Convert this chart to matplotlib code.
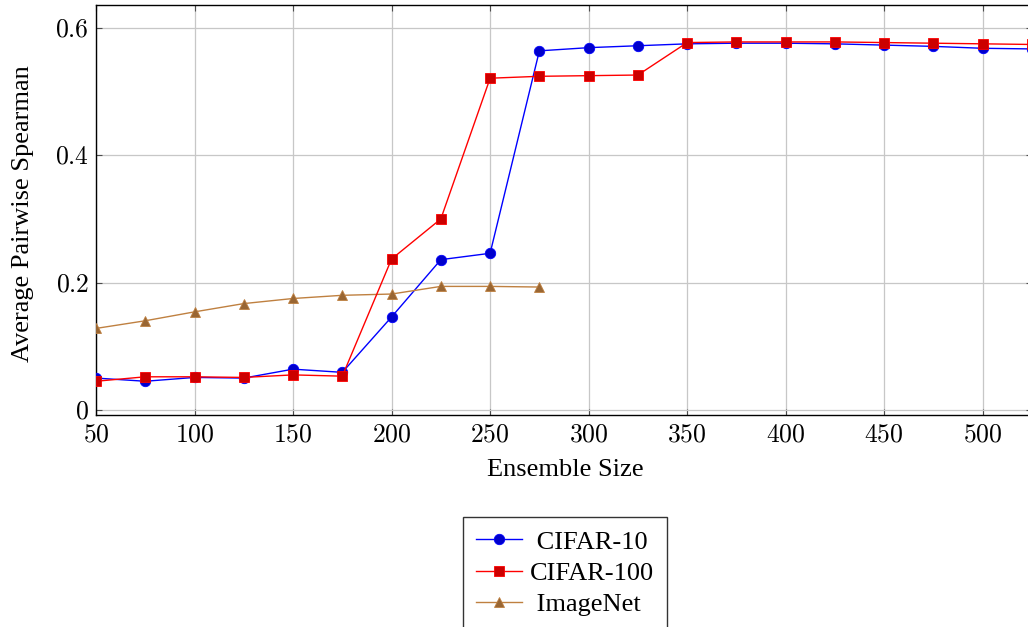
import matplotlib
matplotlib.use("Agg")
import matplotlib.pyplot as plt
from matplotlib.ticker import FuncFormatter, MultipleLocator

plt.rcParams['font.family'] = ['Liberation Serif', 'DejaVu Serif']
plt.rcParams['mathtext.fontset'] = 'cm'

ensemble_sizes = [50, 75, 100, 125, 150, 175, 200, 225, 250, 275, 300, 325, 350,
                  375, 400, 425, 450, 475, 500, 525]
cifar10 = [0.050, 0.045, 0.051, 0.050, 0.064, 0.059, 0.146, 0.236, 0.246, 0.564,
           0.569, 0.572, 0.575, 0.576, 0.576, 0.575, 0.573, 0.571, 0.568, 0.567]
cifar100 = [0.045, 0.052, 0.052, 0.051, 0.055, 0.053, 0.237, 0.300, 0.521, 0.524,
            0.525, 0.526, 0.577, 0.578, 0.578, 0.578, 0.577, 0.576, 0.575, 0.574]
imagenet_sizes = [50, 75, 100, 125, 150, 175, 200, 225, 250, 275]
imagenet = [0.128, 0.140, 0.154, 0.167, 0.175, 0.180, 0.182, 0.194, 0.194, 0.193]

W, H = 1028, 627
fig = plt.figure(figsize=(W / 100, H / 100), dpi=100)
ax = fig.add_axes([96 / W, 1 - 415 / H, (1032 - 96) / W, (415 - 5) / H])

brown = (0.75, 0.5, 0.25)
ax.plot(ensemble_sizes, cifar10, color='blue', lw=1, marker='o', ms=7.5,
        mfc=(0, 0, 0.8), mec='blue', mew=0.6, label=' CIFAR-10', zorder=3)
ax.plot(ensemble_sizes, cifar100, color='red', lw=1, marker='s', ms=7.5,
        mfc=(0.8, 0, 0), mec='red', mew=0.6, label='CIFAR-100', zorder=4)
ax.plot(imagenet_sizes, imagenet, color=brown, lw=1, marker='^', ms=7,
        mfc=(0.6, 0.4, 0.2), mec=brown, mew=0.6, label=' ImageNet', zorder=3)

ax.set_xlim(50, 525)
ax.set_ylim(-0.008, 0.636)
ax.xaxis.set_major_locator(MultipleLocator(50))
ax.yaxis.set_major_locator(MultipleLocator(0.2))
fmt = FuncFormatter(lambda v, p: f'${v:g}$')
ax.xaxis.set_major_formatter(fmt)
ax.yaxis.set_major_formatter(fmt)
ax.tick_params(direction='in', length=4, labelsize=18.5, top=True, right=True,
               color='0.3')
ax.tick_params(axis='x', pad=6.5)
ax.tick_params(axis='y', pad=5)
ax.grid(True, color='0.78', lw=0.9)
ax.set_axisbelow(True)
for s in ax.spines.values():
    s.set_linewidth(1.0)

ax.set_xlabel('Ensemble Size', fontsize=19)
ax.set_ylabel('Average Pairwise Spearman', fontsize=19)
ax.yaxis.set_label_coords((23 - 96) / 936, 0.49)
ax.xaxis.set_label_coords((565 - 96) / 936, (415 - 470) / 410)
ax.xaxis.label.set_verticalalignment('center')
ax.yaxis.label.set_verticalalignment('center')

leg = fig.legend(loc='upper center', bbox_to_anchor=(565 / W, 1 - 517 / H),
                 fontsize=19, frameon=True, fancybox=False, edgecolor='black',
                 handlelength=1.75, borderpad=0.5, labelspacing=0.3,
                 handletextpad=0.3, borderaxespad=0)
leg.get_frame().set_linewidth(1.0)

fig.savefig('out.png', dpi=100)
